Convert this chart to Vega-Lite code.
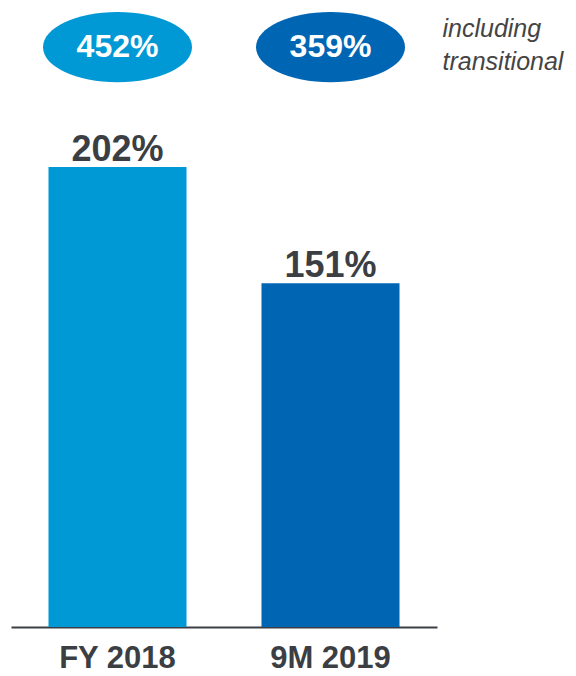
{
  "$schema": "https://vega.github.io/schema/vega-lite/v6.json",
  "width": 426,
  "height": 627,
  "autosize": {"type": "none"},
  "padding": {"left": 11, "top": 0, "right": 139, "bottom": 49},
  "background": "white",
  "config": {
    "view": {"stroke": null},
    "font": "Liberation Sans",
    "text": {"font": "Liberation Sans"}
  },
  "data": {
    "values": [
      {"period": "FY 2018", "ratio": 202, "transitional": 452, "ratioLabel": "202%", "transitionalLabel": "452%"},
      {"period": "9M 2019", "ratio": 151, "transitional": 359, "ratioLabel": "151%", "transitionalLabel": "359%"}
    ]
  },
  "encoding": {
    "x": {
      "field": "period",
      "type": "nominal",
      "sort": null,
      "scale": {"paddingInner": 0, "paddingOuter": 0},
      "axis": {
        "title": null,
        "labelAngle": 0,
        "ticks": false,
        "domain": true,
        "domainColor": "#3b3f44",
        "domainWidth": 2,
        "labelFont": "Liberation Sans",
        "labelFontSize": 31,
        "labelFontWeight": "bold",
        "labelColor": "#3b3f44",
        "labelPadding": 16
      }
    }
  },
  "layer": [
    {
      "mark": {"type": "bar", "width": {"band": 0.648}},
      "encoding": {
        "y": {"field": "ratio", "type": "quantitative", "scale": {"domain": [0, 275.4], "nice": false, "zero": true}, "axis": null},
        "color": {"field": "period", "type": "nominal", "sort": null, "scale": {"domain": ["FY 2018", "9M 2019"], "range": ["#0099d6", "#0066b3"]}, "legend": null}
      }
    },
    {
      "mark": {"type": "text", "baseline": "alphabetic", "dy": -6, "fontSize": 36, "fontWeight": "bold", "color": "#3b3f44"},
      "encoding": {
        "y": {"field": "ratio", "type": "quantitative"},
        "text": {"field": "ratioLabel"}
      }
    },
    {
      "mark": {"type": "point", "filled": true, "opacity": 1, "size": 22201, "shape": "M-1,0A1,0.47,0,1,1,1,0A1,0.47,0,1,1,-1,0Z"},
      "encoding": {
        "y": {"datum": 254.7, "type": "quantitative"},
        "color": {"field": "period", "type": "nominal", "sort": null, "legend": null}
      }
    },
    {
      "mark": {"type": "text", "baseline": "middle", "fontSize": 32, "fontWeight": "bold", "color": "white"},
      "encoding": {
        "y": {"datum": 254.7, "type": "quantitative"},
        "text": {"field": "transitionalLabel"}
      }
    },
    {
      "data": {"values": [{"period": "9M 2019", "note": "including\ntransitional"}]},
      "mark": {"type": "text", "align": "left", "baseline": "alphabetic", "dx": 112, "fontSize": 25, "fontStyle": "italic", "color": "#444444", "lineBreak": "\n", "lineHeight": 33},
      "encoding": {
        "x": {"field": "period", "type": "nominal"},
        "y": {"datum": 259.1, "type": "quantitative"},
        "text": {"field": "note"}
      }
    }
  ]
}
